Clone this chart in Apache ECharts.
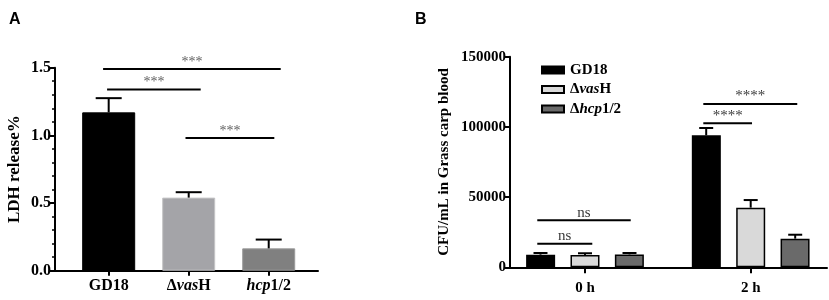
<!DOCTYPE html>
<html>
<head>
<meta charset="utf-8">
<script src="https://cdn.jsdelivr.net/npm/echarts@6/dist/echarts.min.js"></script>
<style>
  html, body { margin: 0; padding: 0; background: #fff; }
  #chart { width: 829px; height: 300px; }
</style>
</head>
<body>
<div id="chart"></div>
<script>
// panel A: LDH release
const ldhCategories = ['GD18', 'ΔvasH', 'hcp1/2'];
const ldhMean = [1.17, 0.54, 0.165];
const ldhSd = [0.105, 0.04, 0.065];
const ldhTicks = [0, 0.5, 1.0, 1.5];
const ldhSigFrom = [-0.07, -0.02, 0.96];
const ldhSigTo = [2.15, 1.15, 2.07];
const ldhSigY = [1.49, 1.338, 0.98];
const ldhSigText = ['***', '***', '***'];

// panel B: CFU in grass carp blood
const cfuGroups = ['0 h', '2 h'];
const cfuSeriesNames = ['GD18', 'ΔvasH', 'Δhcp1/2'];
const cfuGD18 = [9000, 94000];
const cfuGD18Sd = [1200, 5200];
const cfuVasH = [8800, 42500];
const cfuVasHSd = [1200, 5400];
const cfuHcp = [9200, 20400];
const cfuHcpSd = [1000, 2800];
const cfuTicks = [0, 50000, 100000, 150000];
const cfuSigFrom = [-0.288, -0.288, 0.714, 0.714];
const cfuSigTo = [0.276, 0.044, 1.281, 1.008];
const cfuSigY = [33500, 16800, 116300, 102600];
const cfuSigText = ['ns', 'ns', '****', '****'];

const serif = 'Liberation Serif';
const ldhColors = [
    {color: '#000000', borderColor: '#000000'},
    {color: '#a4a4a8', borderColor: '#c4c4c6'},
    {color: '#808080', borderColor: '#9a9a9a'}
];
const cfuColors = ['#000000', '#d9d9d9', '#6a6a6a'];

function richName(name) {
    return name.replace(/(vas|hcp)/, '{i|$1}');
}
const richStyle = {
    i: {fontFamily: serif, fontStyle: 'italic', fontWeight: 'bold', color: '#000'}
};

function errorSeries(gridIdx, means, sds, offsetPx, capHalf) {
    return {
        type: 'custom',
        xAxisIndex: gridIdx,
        yAxisIndex: gridIdx,
        z: 5,
        silent: true,
        data: means.map((m, i) => [i, m, m + sds[i]]),
        renderItem: (params, api) => {
            const base = api.coord([api.value(0), api.value(1)]);
            const top = api.coord([api.value(0), api.value(2)]);
            const x = base[0] + offsetPx;
            const style = {stroke: '#000', lineWidth: 2};
            return {
                type: 'group',
                children: [
                    {type: 'line', shape: {x1: x, y1: base[1], x2: x, y2: top[1]}, style},
                    {type: 'line', shape: {x1: x - capHalf, y1: top[1], x2: x + capHalf, y2: top[1]}, style}
                ]
            };
        }
    };
}

function sigSeries(gridIdx, from, to, ys, texts, fontSize, color) {
    const out = [];
    from.forEach((f, i) => {
        out.push({
            type: 'line',
            xAxisIndex: gridIdx,
            yAxisIndex: gridIdx,
            symbol: 'none',
            silent: true,
            lineStyle: {color: '#000', width: 2},
            data: [[f, ys[i]], [to[i], ys[i]]]
        });
    });
    out.push({
        type: 'scatter',
        xAxisIndex: gridIdx,
        yAxisIndex: gridIdx,
        symbolSize: 0,
        silent: true,
        data: from.map((f, i) => [(f + to[i]) / 2, ys[i], texts[i]]),
        label: {
            show: true,
            position: 'top',
            distance: 0,
            formatter: p => p.data[2],
            fontFamily: serif,
            fontSize: fontSize,
            color: color
        }
    });
    return out;
}

const myChart = echarts.init(document.getElementById('chart'));

const barGapPx = 44.5;
const option = {
    animation: false,
    backgroundColor: '#fff',
    title: [
        {text: 'A', left: 4, top: 7, textStyle: {fontFamily: 'Liberation Sans', fontWeight: 'bold', fontSize: 16, color: '#000'}},
        {text: 'B', left: 410, top: 7, textStyle: {fontFamily: 'Liberation Sans', fontWeight: 'bold', fontSize: 16, color: '#000'}}
    ],
    legend: {
        data: cfuSeriesNames,
        orient: 'vertical',
        left: 536,
        top: 57,
        itemWidth: 22,
        itemHeight: 7,
        itemGap: 3.5,
        icon: 'rect',
        formatter: name => richName(name),
        textStyle: {
            fontFamily: serif, fontWeight: 'bold', fontSize: 15, color: '#000',
            lineHeight: 16, padding: [0, 0, 0, 1], rich: richStyle
        }
    },
    grid: [
        {left: 55, right: 511, top: 67.7, bottom: 29.3},
        {left: 510, right: 2, top: 56.7, bottom: 32.7}
    ],
    xAxis: [
        {
            type: 'value', gridIndex: 0, min: -0.671, max: 2.616,
            splitLine: {show: false},
            axisLine: {show: true, onZero: false, lineStyle: {color: '#000', width: 2}},
            axisTick: {show: true, customValues: [0, 1, 2], length: 5, lineStyle: {color: '#000', width: 2}},
            axisLabel: {
                customValues: [0, 1, 2], margin: 7,
                formatter: v => richName(ldhCategories[Math.round(v)]),
                fontFamily: serif, fontWeight: 'bold', fontSize: 16, color: '#000', rich: richStyle
            }
        },
        {
            type: 'value', gridIndex: 1, min: -0.4526, max: 1.4605,
            splitLine: {show: false},
            axisLine: {show: true, onZero: false, lineStyle: {color: '#000', width: 2}},
            axisTick: {show: true, customValues: [0, 1], length: 6, lineStyle: {color: '#000', width: 2}},
            axisLabel: {
                customValues: [0, 1], margin: 13,
                formatter: v => cfuGroups[Math.round(v)],
                fontFamily: serif, fontWeight: 'bold', fontSize: 15, color: '#000'
            }
        }
    ],
    yAxis: [
        {
            type: 'value', gridIndex: 0, min: ldhTicks[0], max: ldhTicks[ldhTicks.length - 1], interval: 0.5,
            name: 'LDH release%', nameLocation: 'middle', nameGap: 32,
            nameTextStyle: {fontFamily: serif, fontWeight: 'bold', fontSize: 17, color: '#000'},
            splitLine: {show: false},
            axisLine: {show: true, onZero: false, lineStyle: {color: '#000', width: 2}},
            axisTick: {show: true, length: 5, lineStyle: {color: '#000', width: 2}},
            minorTick: {show: true, splitNumber: 5, length: 3, lineStyle: {color: '#000', width: 1.5}},
            axisLabel: {
                margin: 4, formatter: v => v.toFixed(1),
                fontFamily: serif, fontWeight: 'bold', fontSize: 16, color: '#000'
            }
        },
        {
            type: 'value', gridIndex: 1, min: cfuTicks[0], max: cfuTicks[cfuTicks.length - 1], interval: 50000,
            name: 'CFU/mL in Grass carp blood', nameLocation: 'middle', nameGap: 58,
            nameTextStyle: {fontFamily: serif, fontWeight: 'bold', fontSize: 15, color: '#000'},
            splitLine: {show: false},
            axisLine: {show: true, onZero: false, lineStyle: {color: '#000', width: 2}},
            axisTick: {show: true, length: 5, lineStyle: {color: '#000', width: 2}},
            axisLabel: {
                margin: 4, formatter: v => String(v),
                fontFamily: serif, fontWeight: 'bold', fontSize: 15, color: '#000'
            }
        }
    ],
    series: [
        {
            name: 'LDH',
            type: 'bar',
            xAxisIndex: 0,
            yAxisIndex: 0,
            barWidth: 53,
            data: ldhMean.map((v, i) => ({
                value: [i, v],
                itemStyle: {color: ldhColors[i].color, borderColor: ldhColors[i].borderColor, borderWidth: 1}
            }))
        },
        errorSeries(0, ldhMean, ldhSd, 0, 13),
        ...sigSeries(0, ldhSigFrom, ldhSigTo, ldhSigY, ldhSigText, 14, '#333'),

        ...[cfuGD18, cfuVasH, cfuHcp].map((vals, k) => ({
            name: cfuSeriesNames[k],
            type: 'bar',
            xAxisIndex: 1,
            yAxisIndex: 1,
            barWidth: 29,
            barGap: '53%',
            itemStyle: {color: cfuColors[k], borderColor: '#000', borderWidth: 1.5},
            data: vals.map((v, i) => [i, v])
        })),
        errorSeries(1, cfuGD18, cfuGD18Sd, -barGapPx, 7),
        errorSeries(1, cfuVasH, cfuVasHSd, 0, 7),
        errorSeries(1, cfuHcp, cfuHcpSd, barGapPx, 7),
        ...sigSeries(1, cfuSigFrom, cfuSigTo, cfuSigY, cfuSigText, 15, '#000')
    ]
};

myChart.setOption(option);
</script>
</body>
</html>
